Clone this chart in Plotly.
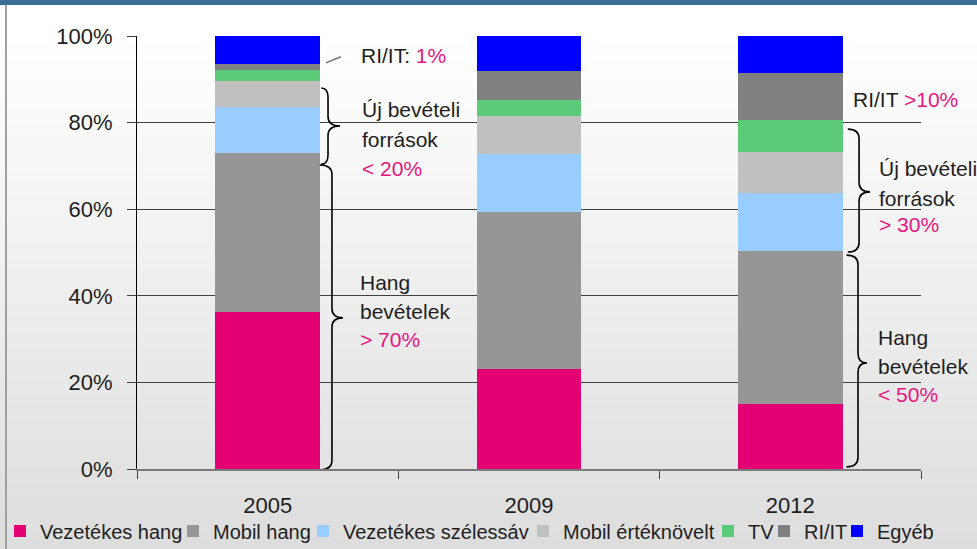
import plotly.graph_objects as go

# ---------------- data ----------------
years = ["2005", "2009", "2012"]
vezetekes_hang = [36.2, 23.1, 15.0]
mobil_hang = [36.7, 36.3, 35.3]
vezetekes_szelessav = [10.7, 13.3, 13.5]
mobil_erteknovelt = [6.0, 8.9, 9.5]
tv = [2.6, 3.6, 7.2]
ri_it = [1.4, 6.7, 10.9]
egyeb = [6.4, 8.1, 8.6]

series_names = ["Vezetékes hang", "Mobil hang", "Vezetékes szélessáv",
                "Mobil értéknövelt", "TV", "RI/IT", "Egyéb"]
series_values = [vezetekes_hang, mobil_hang, vezetekes_szelessav,
                 mobil_erteknovelt, tv, ri_it, egyeb]
series_colors = ["#e20074", "#969696", "#99ccff", "#c0c0c0", "#5bcb79", "#808080", "#0000ff"]
legend_widths = [128, 85, 175, 140, 11, 28, 60]

y_ticks = [0, 20, 40, 60, 80, 100]
y_ticklabels = ["0%", "20%", "40%", "60%", "80%", "100%"]

PINK = "#e5177d"
TXT = "#1e1e1e"
FONT = "Liberation Sans, Arial, sans-serif"

W, H = 977, 549
ML, MR, MT, MB = 137, 0, 36, 80
PW = W - ML - MR
PH = H - MT - MB
XDOM = 784 / PW

fig = go.Figure()
for name, vals, col, lw in zip(series_names, series_values, series_colors, legend_widths):
    fig.add_trace(go.Bar(
        x=years, y=vals, name=name,
        marker=dict(color=col, line=dict(width=0)),
        legendwidth=lw,
        hoverinfo="skip",
    ))


def py2paper(py):
    return (MT + PH - py) / PH


def px2paper(px):
    return (px - ML) / PW


shapes = []
# background vertical gradient (white -> light gray)
nb = 61
for i in range(nb):
    py0 = i * H / nb
    py1 = (i + 1) * H / nb
    pym = (py0 + py1) / 2
    g = 255 if pym <= 40 else round(255 - 34 * (pym - 40) / (H - 40))
    shapes.append(dict(
        type="rect", xref="paper", yref="paper", layer="below",
        x0=px2paper(0), x1=1.0,
        y0=py2paper(py1), y1=py2paper(py0) + 0.002,
        fillcolor=f"rgb({g},{g},{g})", line=dict(width=0),
    ))
# top steel-blue band
shapes.append(dict(type="rect", xref="paper", yref="paper", layer="above",
                   x0=px2paper(0), x1=1.0, y0=py2paper(5), y1=py2paper(0),
                   fillcolor="#3e6c95", line=dict(width=0)))
# left border line
shapes.append(dict(type="line", xref="paper", yref="paper", layer="above",
                   x0=px2paper(6), x1=px2paper(6), y0=py2paper(H), y1=py2paper(5),
                   line=dict(color="#a0a0a0", width=2)))


def brace(xe, xv, xt, yt, yb, ym, r=2.2):
    path = (f"M {xe},{yt} Q {xv},{yt} {xv},{yt - r} "
            f"L {xv},{ym + r} Q {xv},{ym} {xt},{ym} "
            f"Q {xv},{ym} {xv},{ym - r} "
            f"L {xv},{yb + r} Q {xv},{yb} {xe},{yb}")
    return dict(type="path", xref="x", yref="y", path=path, layer="above",
                line=dict(color="black", width=1.6))


# braces (category units on x, percent on y)
shapes.append(brace(0.205, 0.231, 0.277, 88.0, 70.4, 79.2))
shapes.append(brace(0.200, 0.246, 0.288, 70.2, -0.2, 34.9))
shapes.append(brace(2.220, 2.263, 2.305, 78.5, 50.1, 64.0))
shapes.append(brace(2.215, 2.259, 2.293, 49.4, 0.5, 24.5))
# small leader line near "RI/IT: 1%"
shapes.append(dict(type="line", xref="x", yref="y", x0=0.223, y0=93.8, x1=0.280, y1=95.2,
                   line=dict(color="#707070", width=1.5), layer="above"))

annotations = []


def note(x, y, text):
    annotations.append(dict(x=x, y=y, xref="x", yref="y", text=text, showarrow=False,
                            xanchor="left", yanchor="middle",
                            font=dict(family=FONT, size=21, color=TXT)))


def pink(s):
    return f"<span style='color:{PINK}'>{s}</span>"


note(0.350, 95.4, "RI/IT: " + pink("1%"))
note(0.352, 83.1, "Új bevételi")
note(0.352, 76.2, "források")
note(0.352, 69.5, pink("&lt; 20%"))
note(0.345, 43.0, "Hang")
note(0.345, 36.3, "bevételek")
note(0.345, 29.8, pink("&gt; 70%"))

note(2.232, 85.3, "RI/IT " + pink("&gt;10%"))
note(2.330, 69.3, "Új bevételi")
note(2.330, 62.4, "források")
note(2.330, 56.4, pink("&gt; 30%"))
note(2.326, 30.3, "Hang")
note(2.326, 23.6, "bevételek")
note(2.326, 17.1, pink("&lt; 50%"))

fig.update_layout(
    width=W, height=H,
    margin=dict(l=ML, r=MR, t=MT, b=MB, autoexpand=False),
    barmode="stack", bargap=0.6,
    paper_bgcolor="white", plot_bgcolor="rgba(0,0,0,0)",
    font=dict(family=FONT, color=TXT),
    showlegend=True,
    legend=dict(orientation="h", x=px2paper(0), xanchor="left",
                y=py2paper(531), yanchor="middle",
                font=dict(family=FONT, size=20, color=TXT),
                bgcolor="rgba(0,0,0,0)", traceorder="normal",
                itemsizing="constant"),
    xaxis=dict(domain=[0, XDOM], type="category", range=[-0.5, 2.5], autorange=False,
               showline=True, linecolor="#7a7a7a",
               linewidth=2, ticks="outside", tickson="boundaries", ticklen=8,
               tickcolor="#404040", tickwidth=1, showgrid=False,
               tickfont=dict(family=FONT, size=22, color=TXT), ticklabelstandoff=16,
               fixedrange=True),
    yaxis=dict(range=[0, 100], autorange=False, tickvals=y_ticks, ticktext=y_ticklabels,
               showline=True, linecolor="black", linewidth=1,
               ticks="outside", ticklen=9, tickcolor="#404040",
               showgrid=True, gridcolor="#404040", gridwidth=1, zeroline=False,
               tickfont=dict(family=FONT, size=22, color=TXT), ticklabelstandoff=10,
               fixedrange=True),
    shapes=shapes, annotations=annotations,
)

fig.write_html("out.html", config={"displayModeBar": False},
               post_script="document.body.style.margin='0px';")
